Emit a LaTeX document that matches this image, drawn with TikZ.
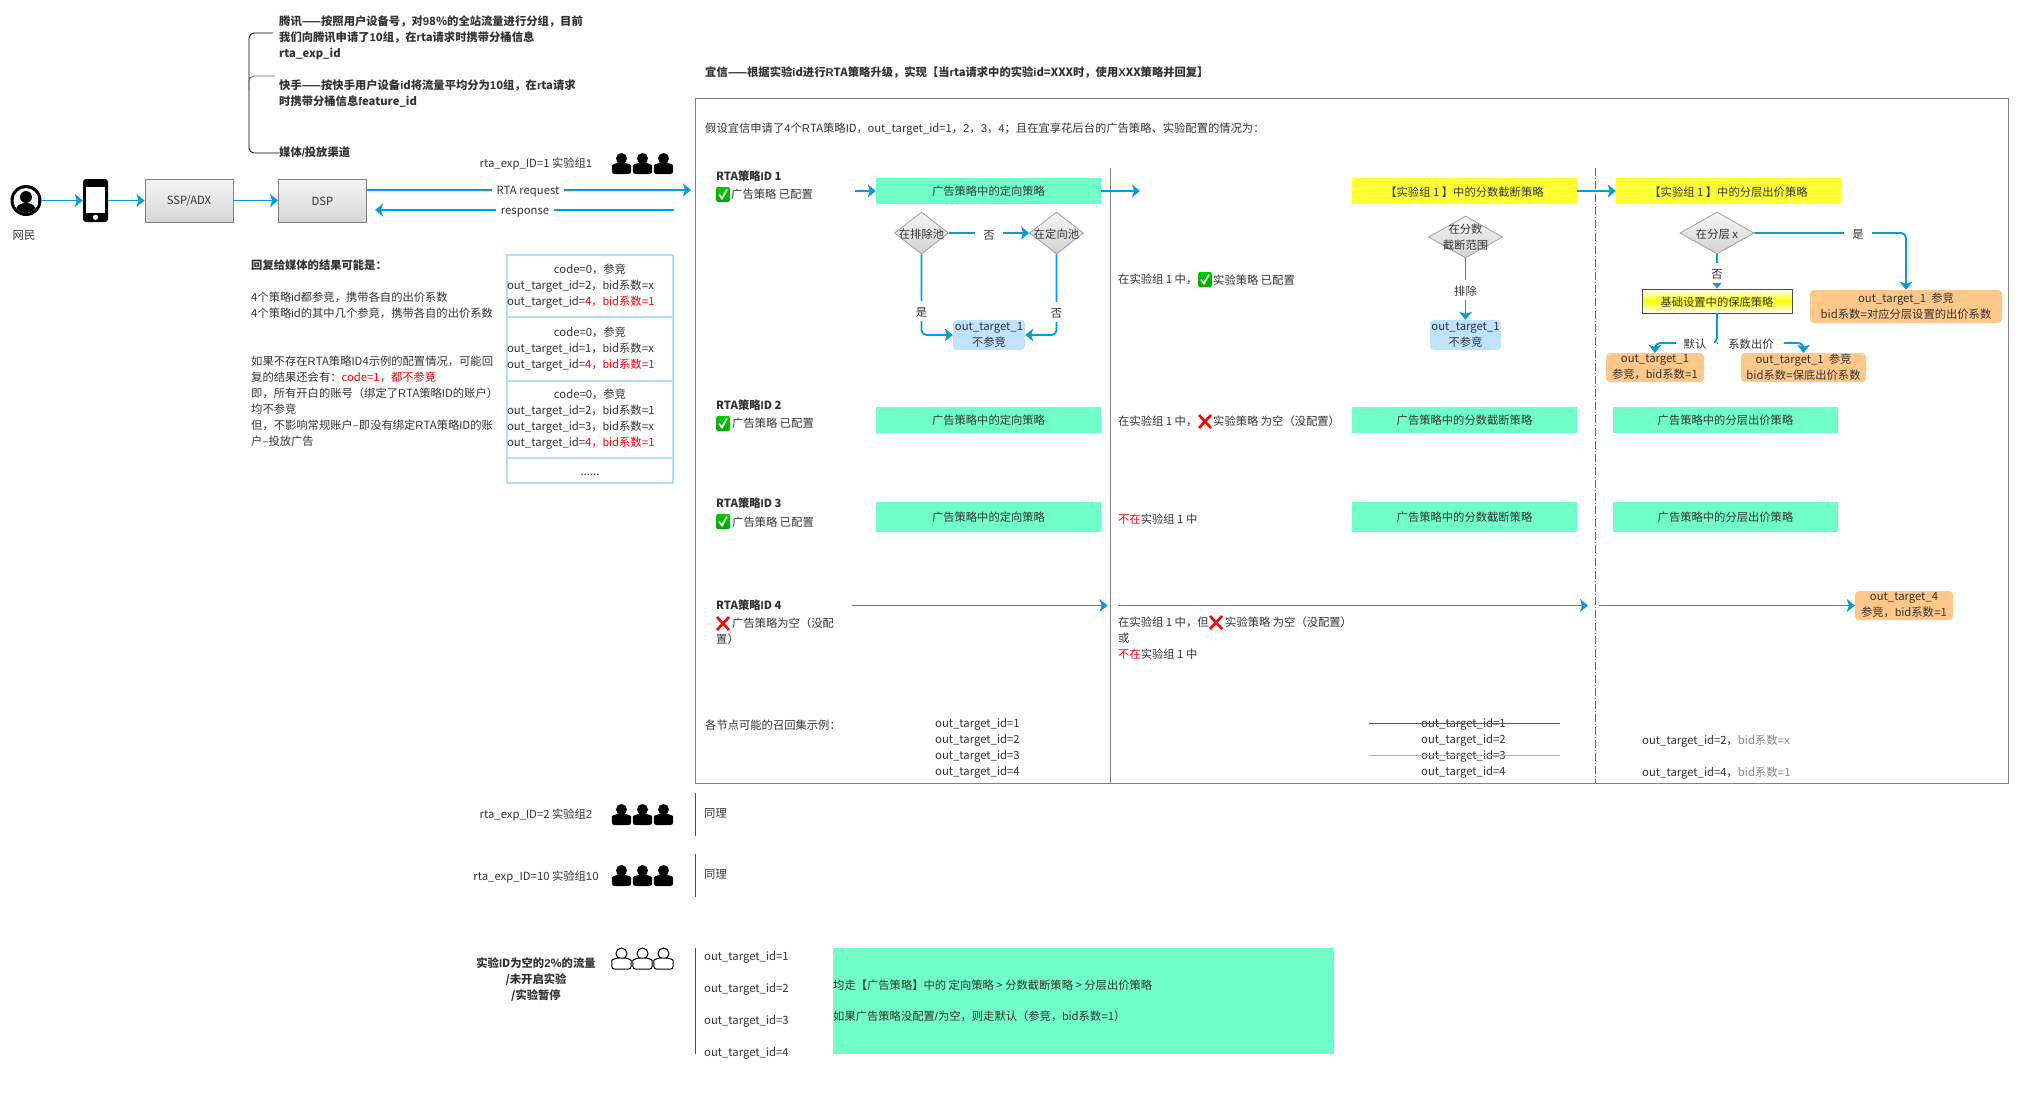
\documentclass[tikz,border=0pt]{standalone}
\usepackage{fontspec}
\usetikzlibrary{shapes.geometric,arrows.meta}
\newfontfamily\cjkf{Noto Sans CJK SC}
\newfontfamily\latf[LetterSpace=2.5]{Liberation Sans}
\newXeTeXintercharclass\latcl
\count255=33
\loop\ifnum\count255<127
  \XeTeXcharclass\count255=\latcl
  \advance\count255 by 1
\repeat
\XeTeXinterchartoks 0 \latcl={\latf}
\XeTeXinterchartoks 1 \latcl={\latf}
\XeTeXinterchartoks 2 \latcl={\latf}
\XeTeXinterchartoks 3 \latcl={\latf}
\XeTeXinterchartoks 4095 \latcl={\latf}
\XeTeXinterchartoks \latcl 0={\cjkf}
\XeTeXinterchartoks \latcl 1={\cjkf}
\XeTeXinterchartoks \latcl 2={\cjkf}
\XeTeXinterchartoks \latcl 3={\cjkf}
\XeTeXinterchartoks 4095 0={\cjkf}
\XeTeXinterchartoks 4095 1={\cjkf}
\XeTeXinterchartoks 4095 2={\cjkf}
\XeTeXinterchartoks 4095 3={\cjkf}
\newcommand\nfont{\XeTeXinterchartokenstate=1\relax\fontsize{11.3}{16}\selectfont\cjkf}
\newcommand\ST{\rule[-1pt]{0pt}{12pt}}
\definecolor{ink}{HTML}{333333}
\definecolor{flowc}{HTML}{0B9BD3}
\definecolor{mint}{HTML}{70FFC8}
\definecolor{yel}{HTML}{FFFF33}
\definecolor{sky}{HTML}{BFE3FF}
\definecolor{org}{HTML}{FFC78A}
\definecolor{rowb}{HTML}{B3DDFF}
\definecolor{fr}{HTML}{808080}
\tikzset{
  every node/.style={font=\nfont,text=ink,inner sep=0pt,align=center,
    execute at begin node=\ST,execute at end node=\ST},
  tx/.style={anchor=west,align=left},
  flow/.style={draw=flowc,line width=1.9pt,rounded corners=5pt,
    -{Stealth[length=8pt,width=13pt,inset=2pt]}},
  lbl/.style={fill=white,inner xsep=#1,inner ysep=0pt},
  lbl/.default=5pt,
  lblv/.style={fill=white,inner xsep=2pt,inner ysep=4pt},
  gbox/.style={fill=mint,minimum width=225pt,minimum height=26pt},
  ybox/.style={fill=yel,minimum width=225pt,minimum height=26pt},
  sky box/.style={fill=sky,rounded corners=4pt,minimum width=72pt,minimum height=30pt},
  org box/.style={fill=org,rounded corners=4pt,minimum height=29pt},
  srv/.style={draw=fr,line width=0.9pt,top color=white!96!black,bottom color=white!84!black,
    minimum width=88pt,minimum height=43pt},
  dia/.style={diamond,draw=white!62!black,line width=0.8pt,top color=white!97!black,bottom color=white!82!black},
  row/.style={draw=rowb,line width=1.2pt,minimum width=166pt,align=left},
  peep/.pic={
    \path[pic actions] (0,5.5) circle[radius=5.5];
    \path[pic actions,rounded corners=2.5pt] (-9.6,21) -- (-9.6,15) .. controls (-9.6,11.5) and (-5,10) .. (0,10) .. controls (5,10) and (9.6,11.5) .. (9.6,15) -- (9.6,21) -- cycle;
  },
  okmark/.pic={
    \shade[top color=green!80!black,bottom color=green!65!black,rounded corners=2pt] (0,0) rectangle (14,15);
    \draw[white,line width=1.7pt] (3,7.5) -- (6,11.5) -- (11,2.5);
  },
  nomark/.pic={
    \draw[red,line width=2.6pt] (1,1) -- (13,14) (13,1) -- (1,14);
  },
}
\begin{document}
\begin{tikzpicture}[x=1pt,y=-1pt]
\fill[white] (0,0) rectangle (2019,1098);
\useasboundingbox (0,0) rectangle (2019,1098);

% media bracket
\coordinate (brT) at (273,33);
\coordinate (brM) at (275,76);
\coordinate (brB) at (279,153);
\draw[black,line width=0.9pt,rounded corners=5pt] (brT) -- (249,33) -- (249,153) -- (brB);
\draw[black!60,line width=0.9pt,rounded corners=5pt] (249,90) -- (249,76) -- (brM);
\node[tx,font=\nfont\bfseries] (tenc) at (279,38) {腾讯——按照用户设备号，对98\%的全站流量进行分组，目前\\我们向腾讯申请了10组，在rta请求时携带分桶信息\\rta\_exp\_id};
\node[tx,font=\nfont\bfseries] (kuai) at (279,94) {快手——按快手用户设备id将流量平均分为10组，在rta请求\\时携带分桶信息feature\_id};
\node[tx,font=\nfont\bfseries] (medi) at (279,152) {媒体/投放渠道};

% chain
\node[circle,fill=black,minimum size=31pt] (usr) at (26,200.5) {};
\begin{scope}
  \clip (26,200.5) circle[radius=12.5];
  \fill[white] (26,200.5) circle[radius=12.5];
  \fill[black] (26,197) circle[radius=6];
  \fill[black] (15,214) .. controls (15,205) and (21,203) .. (26,203) .. controls (31,203) and (37,205) .. (37,214) -- cycle;
\end{scope}
\node[fill=black,rounded corners=3pt,minimum width=25pt,minimum height=43pt] (ph) at (95.5,200.5) {};
\fill[white] (86,187) rectangle (105,213);
\fill[white] (95.5,217.3) circle[radius=2.6];
\node (usrn) at (24,234) {网民};
\node[srv] (ssp) at (189,200.5) {SSP/ADX};
\node[srv] (dsp) at (322.5,200.5) {DSP};
\draw[flow] (usr.east) -- (ph.west);
\draw[flow] (ph.east) -- (ssp.west);
\draw[flow] (ssp.east) -- (dsp.west);
\coordinate (rqE) at (691,190);
\coordinate (rsS) at (674,210);
\coordinate (rsE) at (375,210);
\draw[flow] (dsp.east |- rqE) -- (rqE);
\draw[flow] (rsS) -- (rsE);
\node[lbl] (rqL) at (528,190) {RTA request};
\node[lbl] (rsL) at (525,210) {response};
\node (g1n) at (536,163) {rta\_exp\_ID=1 实验组1};
\pic[fill=black] at (621.5,153) {peep};
\pic[fill=black] at (642.5,153) {peep};
\pic[fill=black] at (663.5,153) {peep};

% reply notes
\node[tx,font=\nfont\bfseries] (rep0) at (251,265) {回复给媒体的结果可能是：};
\node[tx] (rep1) at (251,305) {4个策略id都参竞，携带各自的出价系数\\4个策略id的其中几个参竞，携带各自的出价系数};
\node[tx] (rep2) at (251,401.5) {如果不存在RTA策略ID4示例的配置情况，可能回\\复的结果还会有：{\color{red}code=1，都不参竞}\\即，所有开白的账号（绑定了RTA策略ID的账户）\\均不参竞\\但，不影响常规账户–即没有绑定RTA策略ID的账\\户–投放广告};
\node[row,minimum height=62pt] (r1) at (590,286) {\makebox[166pt]{code=0，参竞}\\out\_target\_id=2，bid系数=x\\out\_target\_id=\textcolor{red}{4，bid系数=1}};
\node[row,minimum height=64pt] (r2) at (590,349) {\makebox[166pt]{code=0，参竞}\\out\_target\_id=1，bid系数=x\\out\_target\_id=\textcolor{red}{4，bid系数=1}};
\node[row,minimum height=77pt] (r3) at (590,419.5) {\makebox[166pt]{code=0，参竞}\\out\_target\_id=2，bid系数=1\\out\_target\_id=3，bid系数=x\\out\_target\_id=\textcolor{red}{4，bid系数=1}};
\node[row,minimum height=25pt,align=center] (r4) at (590,470.5) {......};

% main panel
\node[tx,font=\nfont\bfseries] (ttl) at (705,72) {宜信——根据实验id进行RTA策略升级，实现【当rta请求中的实验id=XXX时，使用XXX策略并回复】};
\draw[fr,line width=1pt] (695.5,98) rectangle (2008,783);
\node[tx] (sup) at (705,128) {假设宜信申请了4个RTA策略ID，out\_target\_id=1，2，3，4；且在宜享花后台的广告策略、实验配置的情况为：};
\draw[fr,line width=1.4pt] (1110.5,168) -- (1110.5,783);
\draw[black!60,line width=0.6pt,dash pattern=on 8pt off 2pt on 1pt off 2pt] (1595.5,168) -- (1595.5,783);

% row 1
\node[tx,font=\nfont\bfseries] (id1) at (716,176) {RTA策略ID 1};
\pic at (716,187) {okmark};
\node[tx] (id1b) at (731,194) {广告策略 已配置};
\node[gbox] (g11) at (988.5,191) {广告策略中的定向策略};
\coordinate (a0) at (855,191);
\coordinate (a1) at (1140,191);
\draw[flow] (a0) -- (g11.west);
\draw[flow] (g11.east) -- (a1);
\node[dia,minimum width=54pt,minimum height=42pt] (d1) at (921.5,233) {};
\node[dia,minimum width=54pt,minimum height=42pt] (d2) at (1056.5,233) {};
\node (d1t) at (d1.center) {在排除池};
\node (d2t) at (d2.center) {在定向池};
\node[sky box] (b1) at (989,335) {out\_target\_1\\不参竞};
\draw[flow] (d1.east) -- (d2.west);
\draw[flow] (d1.south) |- (b1.west);
\draw[flow] (d2.south) |- (b1.east);
\node[lbl=8pt] (l1) at (989,234) {否};
\node[lblv] (l2) at (921.5,311) {是};
\node[lblv] (l3) at (1056.5,312) {否};
\node[tx] (c1a) at (1118,279) {在实验组 1 中，};
\pic at (1198,272) {okmark};
\node[tx] (c1b) at (1213,279) {实验策略 已配置};
\node[ybox] (y1) at (1464.5,191) {【实验组 1 】中的分数截断策略};
\node[ybox] (y2) at (1728.5,191) {【实验组 1 】中的分层出价策略};
\draw[flow] (y1.east) -- (y2.west);
\node[dia,minimum width=74pt,minimum height=42pt] (d3) at (1465.5,237) {};
\node (d3t) at (d3.center) {在分数\\截断范围};
\node[sky box,minimum width=71pt] (b2) at (1465.5,335) {out\_target\_1\\不参竞};
\draw[flow] (d3.south) -- (b2.north);
\node[lblv] (l4) at (1465.5,290) {排除};
\node[dia,minimum width=74pt,minimum height=42pt] (d4) at (1717,233) {};
\node (d4t) at (d4.center) {在分层 x};
\node[draw=black!70,line width=0.9pt,minimum width=150pt,minimum height=24pt,
  top color=white,bottom color=white,middle color=yellow] (bs) at (1717,301) {基础设置中的保底策略};
\node[org box,minimum width=192pt,minimum height=33pt] (o3) at (1906,306.5) {out\_target\_1 \ 参竞\\bid系数=对应分层设置的出价系数};
\node[org box,minimum width=98pt] (o1) at (1655,367.5) {out\_target\_1\\参竞，bid系数=1};
\node[org box,minimum width=125pt] (o2) at (1803.5,367.5) {out\_target\_1 \ 参竞\\bid系数=保底出价系数};
\draw[flow] (d4.south) -- (bs.north);
\draw[flow] (d4.east) -| (o3.north);
\coordinate (jn) at (1717,343);
\draw[flow] (bs.south) -- (jn) -| (o1.north);
\draw[flow] (jn) -| (o2.north);
\node[lblv] (l5) at (1717,273) {否};
\node[lbl=8pt] (l6) at (1858,233) {是};
\node[lbl=8pt] (l7) at (1695,343) {默认};
\node[lbl=10pt] (l8) at (1751,343) {系数出价};

% row 2
\node[tx,font=\nfont\bfseries] (id2) at (716,405) {RTA策略ID 2};
\pic at (716,416) {okmark};
\node[tx] (id2b) at (732,423) {广告策略 已配置};
\node[gbox] (g21) at (988.5,420) {广告策略中的定向策略};
\node[tx] (c2a) at (1118,421) {在实验组 1 中，};
\pic at (1198,414) {nomark};
\node[tx] (c2b) at (1213,421) {实验策略 为空（没配置）};
\node[gbox] (g22) at (1464.5,420) {广告策略中的分数截断策略};
\node[gbox] (g23) at (1725.5,420) {广告策略中的分层出价策略};

% row 3
\node[tx,font=\nfont\bfseries] (id3) at (716,503) {RTA策略ID 3};
\pic at (716,514) {okmark};
\node[tx] (id3b) at (732,521.5) {广告策略 已配置};
\node[gbox,minimum height=30pt] (g31) at (988.5,517) {广告策略中的定向策略};
\node[tx] (c3a) at (1118,518) {{\color{red}不在}实验组 1 中};
\node[gbox,minimum height=30pt] (g32) at (1464.5,517) {广告策略中的分数截断策略};
\node[gbox,minimum height=30pt] (g33) at (1725.5,517) {广告策略中的分层出价策略};

% row 4
\node[tx,font=\nfont\bfseries] (id4) at (716,605) {RTA策略ID 4};
\pic at (716,616) {nomark};
\node[tx] (id4b) at (732,631) {广告策略为空（没配\\\hspace{-16pt}置）};
\node[org box,minimum width=98pt] (o4) at (1904,605.5) {out\_target\_4\\参竞，bid系数=1};
\coordinate (b0) at (852,605.5);
\coordinate (b1e) at (1107.6,605.5);
\coordinate (b2s) at (1118,605.5);
\coordinate (b2e) at (1588,605.5);
\coordinate (b3s) at (1599,605.5);
\draw[flow] (b0) -- (b1e);
\draw[flow] (b2s) -- (b2e);
\draw[flow] (b3s) -- (o4.west);
\node[tx] (c4a) at (1118,622) {在实验组 1 中，但};
\pic at (1209,615) {nomark};
\node[tx] (c4b) at (1225,622) {实验策略 为空（没配置）};
\node[tx] (c4c) at (1118,646) {或\\{\color{red}不在}实验组 1 中};

% recall sets
\node[tx] (rc0) at (705,724) {各节点可能的召回集示例：};
\node[tx] (rc1) at (935,748) {out\_target\_id=1\\out\_target\_id=2\\out\_target\_id=3\\out\_target\_id=4};
\node[tx] (rc2) at (1421,748) {out\_target\_id=1\\out\_target\_id=2\\out\_target\_id=3\\out\_target\_id=4};
\draw[black!65,line width=0.9pt] (1369,723) -- (1560,723);
\draw[black!30,line width=0.9pt] (1369,755) -- (1560,755);
\node[tx] (rc3) at (1642,740) {out\_target\_id=2，{\color{black!45}bid系数=x}};
\node[tx] (rc4) at (1642,772) {out\_target\_id=4，{\color{black!45}bid系数=1}};

% other groups
\node (g2n) at (536,814) {rta\_exp\_ID=2 实验组2};
\pic[fill=black] at (621.5,804) {peep};
\pic[fill=black] at (642.5,804) {peep};
\pic[fill=black] at (663.5,804) {peep};
\draw[black!70,line width=0.8pt] (695.7,793) -- (695.7,836);
\node[tx] (s2) at (704,812) {同理};
\node (g10n) at (536,876) {rta\_exp\_ID=10 实验组10};
\pic[fill=black] at (621.5,865) {peep};
\pic[fill=black] at (642.5,865) {peep};
\pic[fill=black] at (663.5,865) {peep};
\draw[black!70,line width=0.8pt] (695.7,854) -- (695.7,897);
\node[tx] (s10) at (704,873) {同理};
\node[font=\nfont\bfseries] (g0n) at (536,980) {实验ID为空的2\%的流量\\/未开启实验\\/实验暂停};
\pic[draw=black,fill=white,line width=1pt] at (621.5,948) {peep};
\pic[draw=black,fill=white,line width=1pt] at (642.5,948) {peep};
\pic[draw=black,fill=white,line width=1pt] at (663.5,948) {peep};
\draw[black!70,line width=0.8pt] (695.7,948) -- (695.7,1054);
\node[tx] (t1) at (704,956) {out\_target\_id=1};
\node[tx] (t2) at (704,988) {out\_target\_id=2};
\node[tx] (t3) at (704,1020) {out\_target\_id=3};
\node[tx] (t4) at (704,1052) {out\_target\_id=4};
\node[fill=mint,minimum width=501pt,minimum height=106pt] (gbig) at (1083.5,1001) {};
\node[tx] (gt1) at (833,984) {均走【广告策略】中的 定向策略 > 分数截断策略 > 分层出价策略};
\node[tx] (gt2) at (833,1016) {如果广告策略没配置/为空，则走默认（参竞，bid系数=1）};
\end{tikzpicture}
\end{document}
